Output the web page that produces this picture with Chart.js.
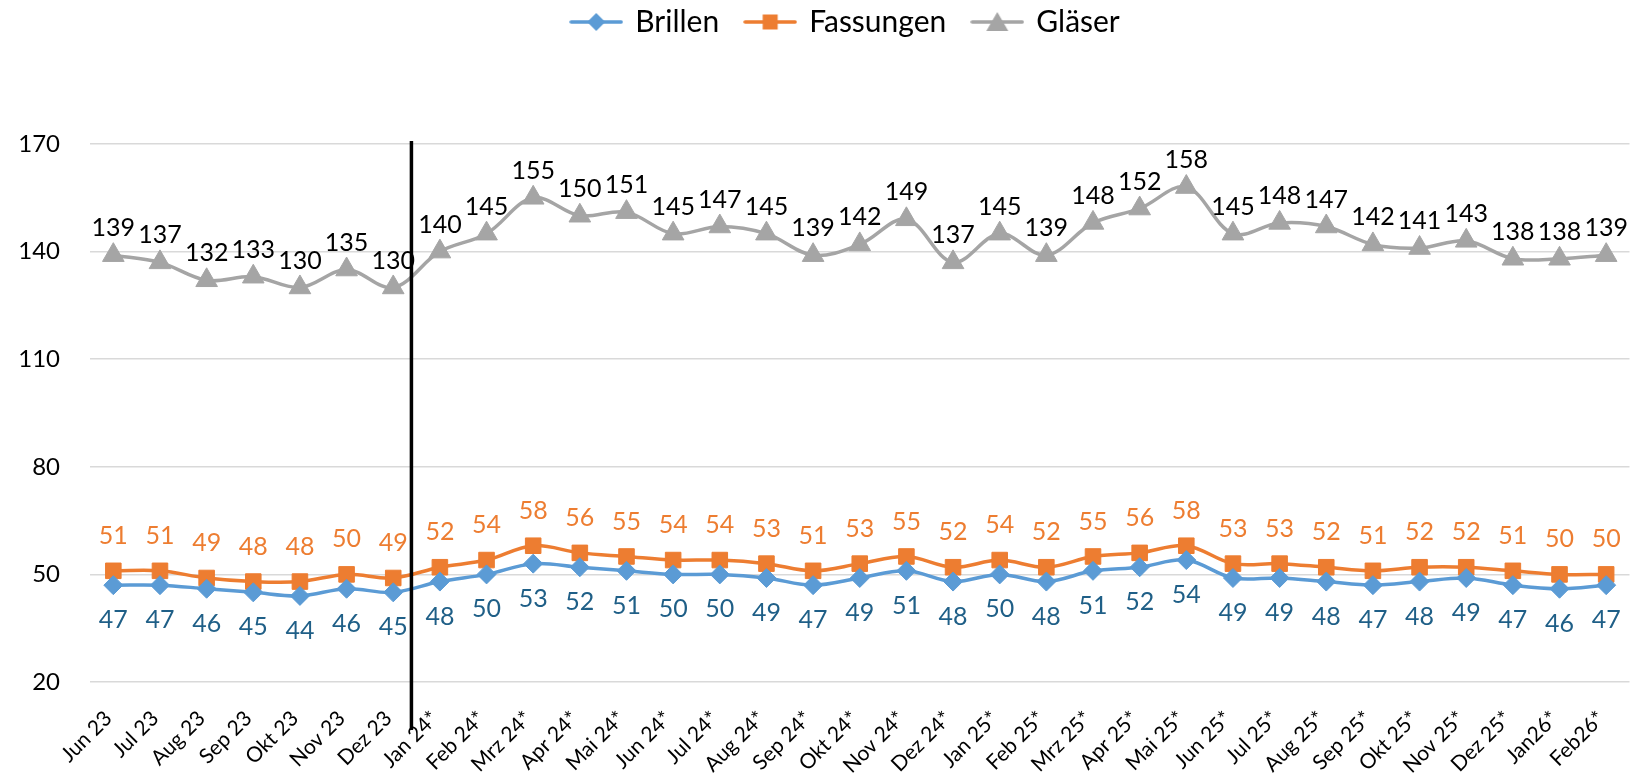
<!DOCTYPE html>
<html>
<head>
<meta charset="utf-8">
<script src="https://cdn.jsdelivr.net/npm/chart.js@4.4.1/dist/chart.umd.min.js"></script>
<style>
  html, body { margin: 0; padding: 0; background: #ffffff; }
  #wrap { width: 1643px; height: 781px; position: relative; }
</style>
</head>
<body>
<div id="wrap"><canvas id="c" width="1643" height="781"></canvas></div>
<script>
const categories = ["Jun 23","Jul 23","Aug 23","Sep 23","Okt 23","Nov 23","Dez 23",
  "Jan 24*","Feb 24*","Mrz 24*","Apr 24*","Mai 24*","Jun 24*","Jul 24*","Aug 24*","Sep 24*",
  "Okt 24*","Nov 24*","Dez 24*","Jan 25*","Feb 25*","Mrz 25*","Apr 25*","Mai 25*","Jun 25*",
  "Jul 25*","Aug 25*","Sep 25*","Okt 25*","Nov 25*","Dez 25*","Jan26*","Feb26*"];
const brillen = [47,47,46,45,44,46,45,48,50,53,52,51,50,50,49,47,49,51,48,50,48,51,52,54,49,49,48,47,48,49,47,46,47];
const fassungen = [51,51,49,48,48,50,49,52,54,58,56,55,54,54,53,51,53,55,52,54,52,55,56,58,53,53,52,51,52,52,51,50,50];
const glaeser = [139,137,132,133,130,135,130,140,145,155,150,151,145,147,145,139,142,149,137,145,139,148,152,158,145,148,147,142,141,143,138,138,139];
const seriesNames = ["Brillen","Fassungen","Gläser"];
const yTicks = [20,50,80,110,140,170];
const forecastStartIndex = 7; // first forecast month (Jan 24*)

const FONT = "Lato";
Chart.defaults.font.family = FONT;
Chart.defaults.color = "#000000";

const COL_B = "#5B9BD5", COL_B_LBL = "#1F5F87";
const COL_F = "#ED7D31";
const COL_G = "#A5A5A5";

function legendImg(color, style) {
  const c = document.createElement("canvas");
  c.width = 54; c.height = 24;
  const g = c.getContext("2d");
  g.strokeStyle = color; g.lineWidth = 3.5; g.lineCap = "round";
  g.beginPath(); g.moveTo(2, 12); g.lineTo(52, 12); g.stroke();
  g.fillStyle = color;
  g.beginPath();
  if (style === "diamond") { g.moveTo(27, 3); g.lineTo(36, 12); g.lineTo(27, 21); g.lineTo(18, 12); }
  else if (style === "square") { g.rect(19.5, 4.5, 15, 15); }
  else { g.moveTo(27, 2); g.lineTo(38, 21); g.lineTo(16, 21); }
  g.closePath(); g.fill();
  return c;
}
const legendImgs = [legendImg(COL_B, "diamond"), legendImg(COL_F, "square"), legendImg(COL_G, "triangle")];

const labelPlugin = {
  id: "valueLabels",
  afterDatasetsDraw(chart) {
    const ctx = chart.ctx;
    const cfg = [
      { color: COL_B_LBL, dy: 35 },
      { color: COL_F, dy: -35 },
      { color: "#000000", dy: -27 }
    ];
    ctx.save();
    ctx.font = "25px " + FONT;
    ctx.textAlign = "center";
    ctx.textBaseline = "middle";
    chart.data.datasets.forEach((ds, di) => {
      const meta = chart.getDatasetMeta(di);
      ctx.fillStyle = cfg[di].color;
      meta.data.forEach((pt, i) => {
        ctx.fillText(String(ds.data[i]), pt.x, pt.y + cfg[di].dy);
      });
    });
    // forecast divider
    const xs = chart.scales.x, ys = chart.scales.y;
    const a = xs.getPixelForValue(forecastStartIndex - 1), b = xs.getPixelForValue(forecastStartIndex);
    const x = a + (b - a) * 0.39;
    ctx.strokeStyle = "#000000";
    ctx.lineWidth = 3.5;
    ctx.beginPath();
    ctx.moveTo(x, ys.getPixelForValue(170) - 3);
    ctx.lineTo(x, chart.chartArea.bottom + 48);
    ctx.stroke();
    ctx.restore();
  }
};

const legendSpace = {
  id: "legendSpace",
  beforeInit(chart) {
    const lg = chart.legend;
    const origFit = lg.fit;
    lg.fit = function () { origFit.call(this); this.height = 164; };
    const origDraw = lg.draw;
    lg.draw = function () {
      const ctx = this.ctx;
      ctx.save();
      ctx.translate(26, 0);
      origDraw.apply(this, arguments);
      ctx.restore();
    };
  }
};

new Chart(document.getElementById("c"), {
  type: "line",
  data: {
    labels: categories,
    datasets: [
      { label: seriesNames[0], data: brillen, borderColor: COL_B, backgroundColor: COL_B, borderWidth: 3.5,
        pointStyle: "rectRot", pointRadius: 9.5, pointBorderWidth: 1, tension: 0.35 },
      { label: seriesNames[1], data: fassungen, borderColor: COL_F, backgroundColor: COL_F, borderWidth: 3.5,
        pointStyle: "rect", pointRadius: 11, pointBorderWidth: 1, tension: 0.35 },
      { label: seriesNames[2], data: glaeser, borderColor: COL_G, backgroundColor: COL_G, borderWidth: 3.5,
        pointStyle: "triangle", pointRadius: 12.5, pointBorderWidth: 1, tension: 0.35 }
    ]
  },
  options: {
    responsive: false,
    animation: false,
    layout: { padding: { top: -20, left: 10, right: 13, bottom: 0 } },
    plugins: {
      tooltip: { enabled: false },
      legend: {
        position: "top",
        labels: {
          usePointStyle: true,
          pointStyleWidth: 48,
          padding: 27,
          color: "#000000",
          font: { size: 30, family: FONT },
          generateLabels(chart) {
            const items = Chart.defaults.plugins.legend.labels.generateLabels(chart);
            items.forEach((it, i) => { it.pointStyle = legendImgs[i]; });
            return items;
          }
        }
      }
    },
    scales: {
      x: {
        offset: true,
        grid: { display: false, drawTicks: false },
        border: { display: false },
        ticks: { autoSkip: false, maxRotation: 45, minRotation: 45, padding: 24, labelOffset: -5,
                 color: "#000000", font: { size: 21, family: FONT } },
        afterFit(scale) { scale.height = 99; scale.paddingLeft = 0; scale.paddingRight = 0; }
      },
      y: {
        min: 20, max: 170,
        afterBuildTicks(scale) { scale.ticks = yTicks.map(v => ({ value: v })); },
        grid: { color: "#D9D9D9", lineWidth: 1.5, drawTicks: false },
        border: { display: false },
        ticks: { padding: 30, color: "#000000", font: { size: 24, family: FONT } },
        afterFit(scale) { scale.width = 80; }
      }
    }
  },
  plugins: [legendSpace, labelPlugin]
});
</script>
</body>
</html>
